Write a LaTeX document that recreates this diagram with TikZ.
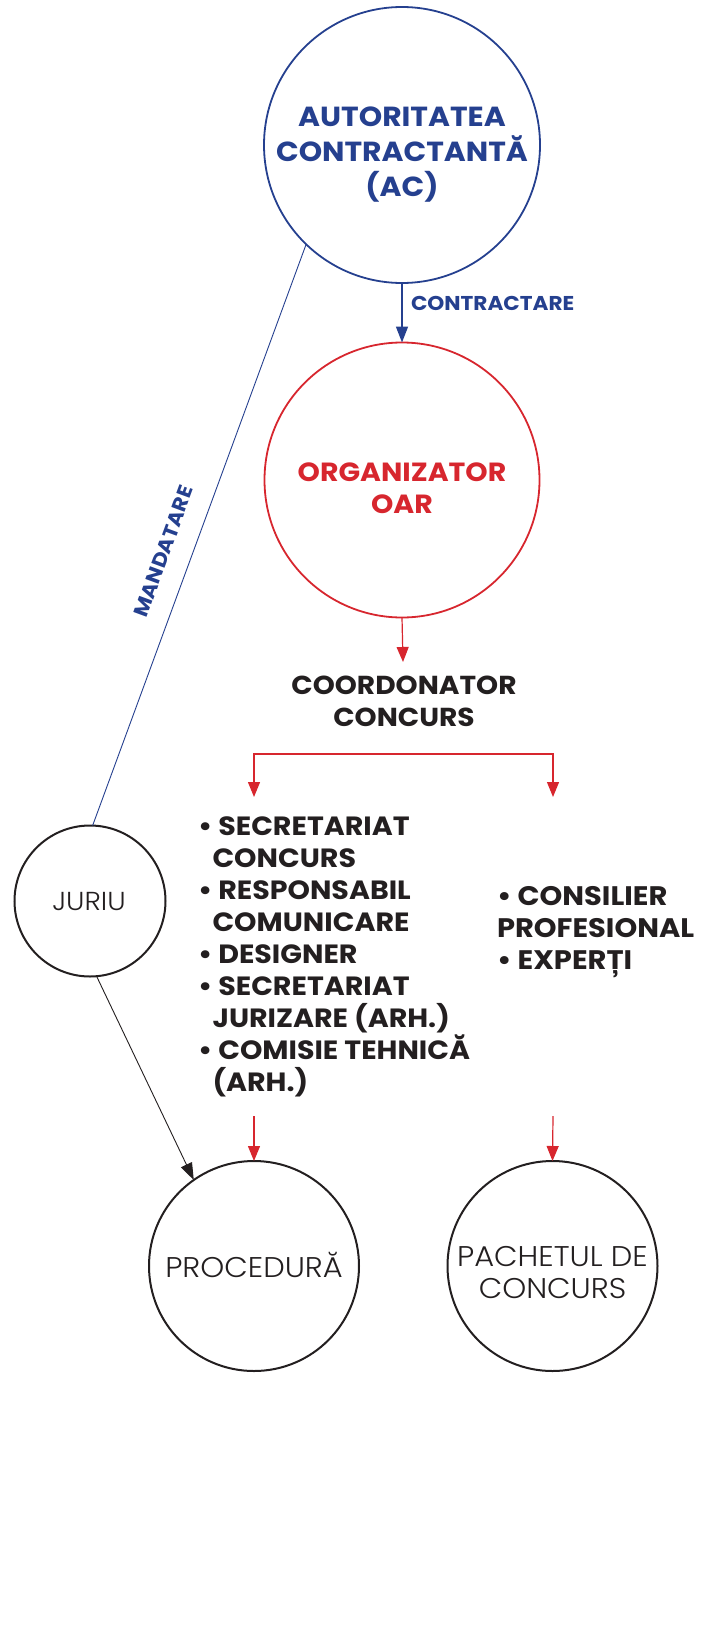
\documentclass[tikz,border=0pt]{standalone}
\usepackage{fontspec}
\setmainfont{Poppins}[FakeStretch=1.08]
\newfontfamily\lightfont{Poppins Light}[FakeStretch=1.07]
\usetikzlibrary{arrows.meta}
\definecolor{acblue}{HTML}{25408F}
\definecolor{oarred}{HTML}{D7262E}
\definecolor{ink}{HTML}{231F20}

\begin{document}
\begin{tikzpicture}[x=1pt, y=-1pt,
  every node/.style={inner sep=0pt, outer sep=0pt},
  ring/.style={circle, minimum size=#1},
  bluehead/.style={-{Triangle[length=16pt, width=12pt]}},
  redhead/.style={-{Triangle[length=15pt, width=12pt]}},
  inkhead/.style={-{Triangle[length=17pt, width=12pt]}},
  boldtext/.style={font=\bfseries\fontsize{#1}{32}\selectfont},
  lighttext/.style={font=\lightfont\fontsize{#1}{32}\selectfont, text=ink},
]
\useasboundingbox (0,0) rectangle (718,1627);

% circles
\node[ring=276pt, draw=acblue, line width=1.8pt] (ac) at (402,145) {};
\node[ring=275pt, draw=oarred, line width=1.8pt] (oar) at (402,480) {};
\node[ring=151pt, draw=ink, line width=2pt] (juriu) at (90,901) {};
\node[ring=210pt, draw=ink, line width=2pt] (procedura) at (254,1266) {};
\node[ring=210pt, draw=ink, line width=2pt] (pachet) at (552.5,1266) {};

% circle captions
\node[align=center, text=acblue, font=\bfseries\fontsize{27.6}{35}\selectfont] (actext) at (402,155)
  {AUTORITATEA\\CONTRACTANTĂ\\(AC)};
\node[align=center, text=oarred, font=\bfseries\fontsize{26.3}{32}\selectfont] (oartext) at (402,488)
  {ORGANIZATOR\\OAR};
\node[lighttext=26, anchor=base] (juriutext) at (89,910) {JURIU};
\node[lighttext=28.5, anchor=base] (proctext) at (254,1277) {PROCEDURĂ};
\node[lighttext=28.5, align=center] (pachettext) at (552.5,1273) {PACHETUL DE\\CONCURS};

% coordinator and teams
\node[align=center, text=ink, font=\bfseries\fontsize{26}{32}\selectfont] (coord) at (404,701)
  {COORDONATOR\\CONCURS};
\node[align=left, anchor=north west, text=ink, boldtext=26.4] (teamleft) at (198,817)
  {• SECRETARIAT\\
   \hspace{0.55em}CONCURS\\
   • RESPONSABIL\\
   \hspace{0.55em}COMUNICARE\\
   • DESIGNER\\
   • SECRETARIAT\\
   \hspace{0.55em}JURIZARE (ARH.)\\
   • COMISIE TEHNICĂ\\
   \hspace{0.55em}(ARH.)};
\node[align=left, anchor=north west, text=ink, boldtext=26.8] (teamright) at (497,886)
  {• CONSILIER\\PROFESIONAL\\• EXPERȚI};

% connector end points
\coordinate (coordTop) at (403,662);
\coordinate (brL) at (254,754);
\coordinate (brR) at (553,754);
\coordinate (lstL) at (254,797);
\coordinate (lstR) at (553,797);
\coordinate (outL) at (254,1116);
\coordinate (outR) at (553,1116);

% contracting link
\draw[acblue, line width=1.6pt, bluehead] (ac.south) -- (oar.north);
\node[anchor=west, text=acblue, font=\bfseries\fontsize{20}{22}\selectfont] (contr) at (411,303) {CONTRACTARE};

% mandate link
\draw[acblue, line width=0.9pt] (juriu.88) -- node[pos=0.455, sloped, above=21pt, text=acblue,
  font=\bfseries\fontsize{20}{22}\selectfont] (mand) {MANDATARE} (ac.226);

% jury to procedure
\draw[ink, line width=0.9pt, inkhead] (juriu.275) -- (procedura.125);

% organiser chain
\draw[oarred, line width=1.2pt, redhead] (oar.south) -- (coordTop);
\draw[oarred, line width=1.2pt, {Triangle[length=15pt, width=12pt]}-{Triangle[length=15pt, width=12pt]}]
  (lstL) -- (brL) -- (brR) -- (lstR);
\draw[oarred, line width=1.2pt, redhead] (outL) -- (procedura.north);
\draw[oarred, line width=1.2pt, redhead] (outR) -- (pachet.north);
\end{tikzpicture}
\end{document}
